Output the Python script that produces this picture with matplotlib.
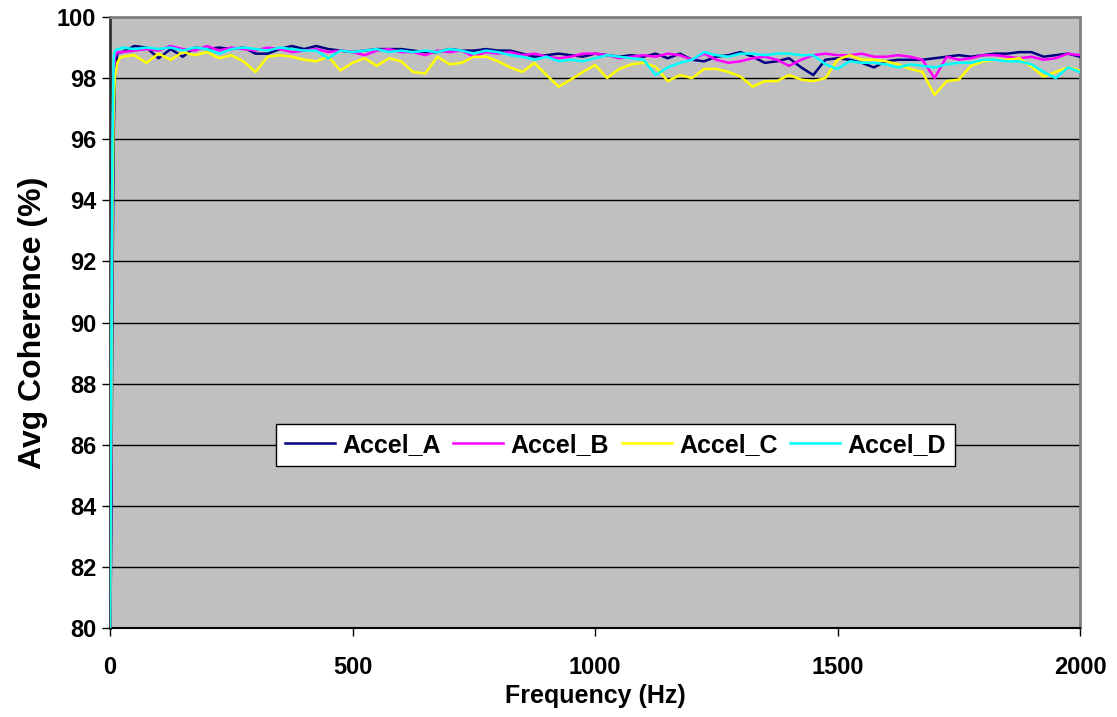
import numpy as np
import matplotlib
matplotlib.use('Agg')
from matplotlib import pyplot as plt

plt.rcParams['font.family'] = ['Liberation Sans', 'DejaVu Sans']
plt.rcParams['font.weight'] = 'bold'

# frequency axis (Hz): fine steps at the start, then every 25 Hz
freq_start = [0, 2.5, 5, 7.5, 10, 15, 20]
freq_main = list(range(25, 2001, 25))
freq = np.array(freq_start + freq_main, dtype=float)

# average coherence (%)
accel_a = [79, 83, 91, 96, 98.0, 98.8, 98.85,
           98.85, 99.05, 99.0, 98.65, 98.95, 98.7, 99.0, 98.95, 99.0, 98.95, 99.0, 98.8, 98.8, 98.95, 99.05, 98.95,
           99.05, 98.95, 98.9, 98.85, 98.9, 98.95, 98.95, 98.95, 98.9, 98.85, 98.85, 98.95, 98.9, 98.9, 98.95, 98.9,
           98.9, 98.8, 98.7, 98.75, 98.8, 98.75, 98.7, 98.8, 98.75, 98.7, 98.75, 98.7, 98.8, 98.65, 98.8, 98.6,
           98.55, 98.7, 98.75, 98.85, 98.7, 98.5, 98.55, 98.65, 98.35, 98.1, 98.6, 98.65, 98.6, 98.5, 98.35, 98.55,
           98.6, 98.6, 98.6, 98.65, 98.7, 98.75, 98.7, 98.75, 98.8, 98.8, 98.85, 98.85, 98.7, 98.75, 98.8, 98.7]
accel_b = [80, 86, 95, 98.2, 98.7, 98.85, 98.85,
           98.85, 98.9, 98.95, 98.9, 99.05, 98.95, 98.9, 99.05, 98.9, 99.0, 98.95, 98.9, 99.0, 98.95, 98.85, 98.9,
           98.95, 98.85, 98.9, 98.85, 98.75, 98.9, 98.95, 98.85, 98.85, 98.75, 98.9, 98.85, 98.9, 98.7, 98.85, 98.8,
           98.85, 98.75, 98.8, 98.7, 98.65, 98.7, 98.8, 98.8, 98.75, 98.65, 98.7, 98.75, 98.7, 98.8, 98.75, 98.6,
           98.8, 98.6, 98.5, 98.55, 98.65, 98.7, 98.6, 98.4, 98.6, 98.75, 98.8, 98.75, 98.75, 98.8, 98.7, 98.7,
           98.75, 98.7, 98.6, 98.0, 98.7, 98.6, 98.65, 98.75, 98.75, 98.7, 98.65, 98.7, 98.6, 98.65, 98.8, 98.75]
accel_c = [80, 87, 94, 97, 98.0, 98.5, 98.65,
           98.7, 98.75, 98.5, 98.8, 98.6, 98.85, 98.75, 98.85, 98.65, 98.75, 98.55, 98.2, 98.7, 98.75, 98.7, 98.6,
           98.55, 98.7, 98.25, 98.5, 98.65, 98.4, 98.65, 98.55, 98.2, 98.15, 98.7, 98.45, 98.5, 98.7, 98.7, 98.55,
           98.35, 98.2, 98.5, 98.1, 97.72, 97.95, 98.2, 98.43, 98.0, 98.3, 98.45, 98.5, 98.37, 97.9, 98.1, 98.0,
           98.3, 98.3, 98.2, 98.05, 97.72, 97.9, 97.9, 98.1, 97.95, 97.9, 98.0, 98.6, 98.75, 98.6, 98.6, 98.55,
           98.45, 98.3, 98.2, 97.45, 97.9, 97.95, 98.4, 98.55, 98.6, 98.6, 98.65, 98.37, 98.05, 98.2, 98.35, 98.25]
accel_d = [80, 88, 96, 98.6, 98.9, 98.95, 98.95,
           99.0, 98.95, 99.0, 98.95, 99.0, 98.9, 99.0, 98.95, 98.8, 98.95, 99.0, 98.95, 98.9, 99.0, 98.95, 98.9,
           98.9, 98.65, 98.9, 98.85, 98.9, 98.95, 98.85, 98.9, 98.85, 98.9, 98.85, 98.95, 98.9, 98.8, 98.9, 98.85,
           98.75, 98.7, 98.6, 98.7, 98.55, 98.6, 98.55, 98.65, 98.75, 98.7, 98.65, 98.6, 98.1, 98.35, 98.5, 98.6,
           98.85, 98.75, 98.7, 98.8, 98.8, 98.75, 98.8, 98.8, 98.75, 98.75, 98.45, 98.3, 98.55, 98.5, 98.5, 98.45,
           98.35, 98.45, 98.4, 98.35, 98.45, 98.5, 98.5, 98.6, 98.6, 98.55, 98.55, 98.45, 98.2, 98.0, 98.35, 98.2]

series = {'Accel_A': accel_a, 'Accel_B': accel_b, 'Accel_C': accel_c, 'Accel_D': accel_d}
colors = {'Accel_A': '#000080', 'Accel_B': '#FF00FF', 'Accel_C': '#FFFF00', 'Accel_D': '#00FFFF'}

fig = plt.figure(figsize=(11.17, 7.17), dpi=100)
ax = fig.add_axes([0.0985, 0.1241, 0.8684, 0.8522])
ax.set_facecolor('#C0C0C0')

for name, vals in series.items():
    ax.plot(freq, vals, color=colors[name], lw=1.8, label=name, zorder=3)

ax.set_xlim(0, 2000)
ax.set_ylim(80, 100)
ax.set_xticks([0, 500, 1000, 1500, 2000])
ax.set_yticks(np.arange(80, 101, 2))
ax.yaxis.grid(True, color='black', lw=1)
ax.set_axisbelow(True)

ax.tick_params(direction='out', length=6, width=1, labelsize=17, color='black')
ax.tick_params(axis='x', pad=14)
ax.tick_params(axis='y', pad=4)
for lab in ax.get_xticklabels() + ax.get_yticklabels():
    lab.set_fontweight('bold')

ax.spines['top'].set_color('#808080')
ax.spines['right'].set_color('#808080')
ax.spines['top'].set_linewidth(2)
ax.spines['right'].set_linewidth(2)
ax.spines['left'].set_color('#333333')
ax.spines['left'].set_linewidth(2)
ax.spines['bottom'].set_color('black')
ax.spines['bottom'].set_linewidth(1.5)

ax.set_xlabel('Frequency (Hz)', fontsize=18, fontweight='bold', labelpad=4)
ax.set_ylabel('Avg Coherence (%)', fontsize=23, fontweight='bold', labelpad=6)

leg = ax.legend(loc='center', bbox_to_anchor=(0.521, 0.2995), ncol=4, fontsize=18,
                frameon=True, fancybox=False, edgecolor='black', facecolor='white', framealpha=1,
                handlelength=2.0, columnspacing=0.5, handletextpad=0.3, borderpad=0.35)
leg.get_frame().set_linewidth(1)
for t in leg.get_texts():
    t.set_fontweight('bold')

fig.savefig('out.png', dpi=100)
